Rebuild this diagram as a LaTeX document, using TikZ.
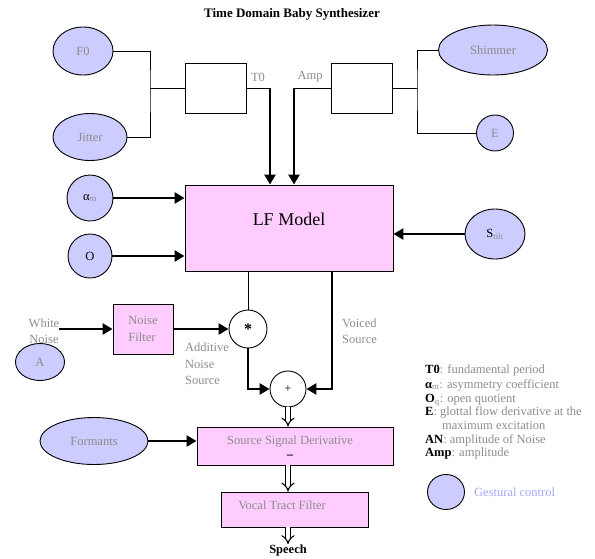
\documentclass[tikz,border=0pt]{standalone}
\usepackage{fontspec}
\setmainfont{Liberation Serif}
\usetikzlibrary{arrows.meta,shapes.geometric}
\definecolor{gestfill}{RGB}{204,204,255}
\definecolor{boxfill}{RGB}{255,204,255}
\definecolor{lbl}{RGB}{140,140,140}
\definecolor{gesttext}{RGB}{165,165,255}
\newcommand{\lblfont}{\fontsize{12.5}{16.5}\selectfont}
\begin{document}
\begin{tikzpicture}[x=1pt,y=-1pt,
  gesture/.style={ellipse,draw,fill=gestfill,line width=0.9pt,inner sep=0,text=lbl,font=\lblfont},
  procbox/.style={draw,fill=boxfill,line width=0.9pt,inner sep=0,text=lbl,font=\lblfont},
  emptybox/.style={draw,line width=0.9pt,inner sep=0,minimum width=61pt,minimum height=50pt},
  op/.style={circle,draw,fill=white,line width=0.9pt,inner sep=0},
  wire/.style={line width=0.9pt},
  feed/.style={line width=2.6pt,-{Triangle[length=10pt,width=11pt]}},
  hollow/.style={double,double distance=3.5pt,line width=1.1pt,-{Implies}},
  lab/.style={text=lbl,font=\lblfont,align=left,inner sep=0},
  legend/.style={text=lbl,font=\lblfont,inner sep=0,anchor=west},
]
\useasboundingbox (0,0) rectangle (595,558);

% title
\node[font=\bfseries\fontsize{13}{15}\selectfont] (title) at (292,14) {Time Domain Baby Synthesizer};

% gestural controls feeding the period and amplitude blocks
\node[gesture,minimum width=60pt,minimum height=48pt] (F0) at (83,51) {F0};
\node[gesture,minimum width=74pt,minimum height=47pt] (jitter) at (90,137) {Jitter};
\node[gesture,minimum width=109pt,minimum height=50pt] (shimmer) at (493,50) {Shimmer};
\node[gesture,minimum width=37pt,minimum height=36pt] (E) at (495,133) {E};

\node[emptybox] (boxT) at (215.5,88) {};
\node[emptybox] (boxA) at (362,88) {};

\coordinate (jT) at (150,88);
\coordinate (jA) at (417,88);
\draw[wire] (F0.east) -| (jT) |- (jitter.east);
\draw[wire] (jT) -- (boxT.west);
\draw[wire] (shimmer.west) -| (jA) |- (E.west);
\draw[wire] (jA) -- (boxA.east);

% LF model
\node[procbox,minimum width=208pt,minimum height=86pt] (LF) at (289,228) {};
\node[font=\fontsize{18}{20}\selectfont,inner sep=0] (LFtext) at (289,219) {LF Model};

\coordinate (kT) at (270,88);
\coordinate (kA) at (294,88);
\draw[wire] (boxT.east) -- (kT);
\draw[feed] (kT) -- (kT |- LF.north);
\draw[wire] (boxA.west) -- (kA);
\draw[feed] (kA) -- (kA |- LF.north);
\node[lab] (Tlab) at (258,77) {T0};
\node[lab] (Alab) at (310,77) {Amp};

\node[gesture,circle,minimum size=46pt,text=black] (alpha) at (90,198) {α\textcolor{lbl}{\textsubscript{m}}};
\node[gesture,circle,minimum size=44pt,text=black] (Oq) at (90,256) {O};
\node[gesture,minimum width=60pt,minimum height=50pt,text=black] (Stilt) at (495,234) {S\textcolor{lbl}{\textsubscript{tilt}}};
\draw[feed] (alpha.east) -- (alpha.east -| LF.west);
\draw[feed] (Oq.east) -- (Oq.east -| LF.west);
\draw[feed] (Stilt.west) -- (Stilt.west -| LF.east);

% noise branch
\node[lab,align=center] (wn) at (44,331) {White\\Noise};
\node[procbox,minimum width=60pt,minimum height=50pt,align=left] (NF) at (143,329) {Noise\\Filter};
\node[gesture,minimum width=49pt,minimum height=37pt] (A) at (40,362) {A};
\node[op,minimum size=38pt,font=\fontsize{16}{16}\selectfont\bfseries] (star) at (248,329) {*};
\node[op,minimum size=36pt,font=\fontsize{12}{12}\selectfont] (plus) at (288,389) {+};

\draw[feed] (wn.east |- NF.west) -- (NF.west);
\draw[feed] (NF.east) -- (star.west);
\draw[wire] (LF.south -| star.north) -- (star.north);
\node[lab,anchor=west] (ans) at (185,364) {Additive\\Noise\\Source};
\draw[feed] (star.south) |- (plus.west);

\coordinate (vs) at (332,271);
\draw[feed] (vs) |- (plus.east);
\node[lab,anchor=west] (vlab) at (342,331) {Voiced\\Source};

% source derivative and vocal tract
\node[procbox,minimum width=196pt,minimum height=38pt] (SSD) at (295,446) {};
\node[lab,align=center] (SSDtext) at (290,447) {Source Signal Derivative\\[-3pt]\textcolor{black}{\bfseries –}};
\node[gesture,minimum width=108pt,minimum height=47pt] (formants) at (94,441) {Formants};
\draw[feed] (formants.east) -- (formants.east -| SSD.west);
\draw[hollow] (plus.south) -- (plus.south |- SSD.north);

\node[procbox,minimum width=147pt,minimum height=35pt] (VTF) at (294.5,509.5) {};
\node[lab] (VTFtext) at (282,505) {Vocal Tract Filter};
\draw[hollow] (SSD.south -| plus) -- (VTF.north -| plus);

\node[font=\bfseries\fontsize{12.5}{14}\selectfont,inner sep=0] (speech) at (288,550) {Speech};
\draw[hollow] (VTF.south -| plus) -- (speech.north);

% legend
\node[legend] (l1) at (425,370) {\textcolor{black}{\bfseries T0}: fundamental period};
\node[legend] (l2) at (425,385) {\textcolor{black}{\bfseries α}\textsubscript{m}: asymmetry coefficient};
\node[legend] (l3) at (425,400) {\textcolor{black}{\bfseries O}\textsubscript{q}: open quotient};
\node[legend] (l4) at (425,412) {\textcolor{black}{\bfseries E}: glottal flow derivative at the};
\node[legend] (l5) at (442,425) {maximum excitation};
\node[legend] (l6) at (425,440) {\textcolor{black}{\bfseries AN}: amplitude of Noise};
\node[legend] (l7) at (425,453) {\textcolor{black}{\bfseries Amp}: amplitude};
\node[gesture,minimum width=37pt,minimum height=35pt] (gkey) at (446,492) {};
\node[legend,text=gesttext] (gtext) at (474,492) {Gestural control};
\end{tikzpicture}
\end{document}
